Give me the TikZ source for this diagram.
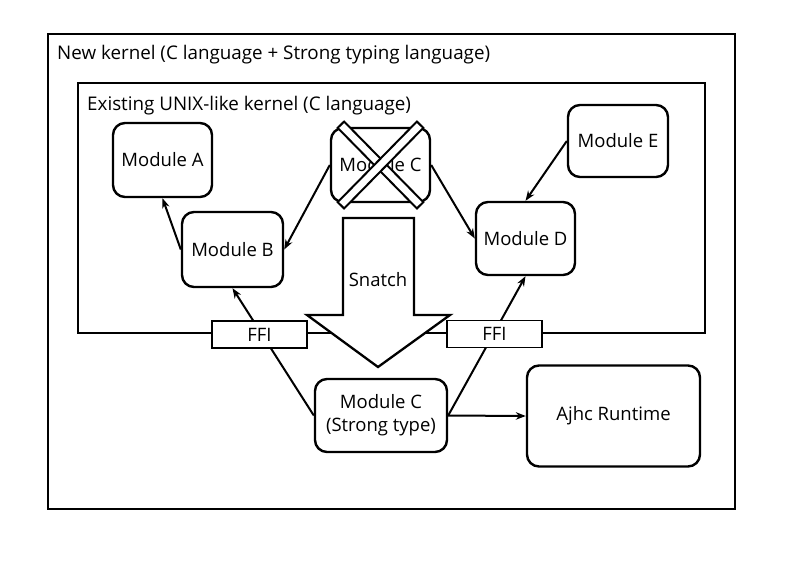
\documentclass[tikz,border=0pt]{standalone}
\usepackage{fontspec}
\setmainfont{Open Sans}
\usetikzlibrary{arrows.meta}
\tikzset{
  frame/.style={draw, line width=2.3pt},
  mod/.style={draw, line width=2.4pt, rounded corners=12pt, fill=white, align=center, font=\fontsize{18.5}{23}\selectfont},
  ffi/.style={draw, line width=1.8pt, fill=white, minimum width=95pt, minimum height=27pt, inner sep=0pt, font=\fontsize{18.5}{22}\selectfont},
  band/.style={draw, line width=2pt, fill=white, minimum width=113pt, minimum height=9pt, inner sep=0pt},
  conn/.style={line width=2pt},
  arr/.style={conn, -{Stealth[length=10pt,width=7.5pt]}},
  title/.style={anchor=base west, font=\fontsize{18.8}{22}\selectfont, inner sep=0pt}
}
\begin{document}
\begin{tikzpicture}[x=1pt,y=-1pt]
\useasboundingbox (0,0) rectangle (800,566);
% frames
\draw[frame] (48,34) rectangle (735,509);
\draw[frame] (78,83) rectangle (705,333);
\node[title] (tnew) at (57,59) {New kernel (C language + Strong typing language)};
\node[title] (texist) at (87,110) {Existing UNIX-like kernel (C language)};
% modules
\node[mod, minimum width=99pt, minimum height=74pt] (A) at (162.5,160) {Module A};
\node[mod, minimum width=101pt, minimum height=75pt] (B) at (232.5,249.5) {Module B};
\node[mod, minimum width=99pt, minimum height=74pt] (C) at (380.5,165) {Module C};
\node[mod, minimum width=100pt, minimum height=72pt] (E) at (618,141) {Module E};
\node[mod, minimum width=99pt, minimum height=73pt] (D) at (525.5,238.5) {Module D};
\node[mod, minimum width=132pt, minimum height=73pt] (CS) at (381,415.5) {Module C\\(Strong type)};
\node[mod, minimum width=173pt, minimum height=101pt] (AJ) at (613.5,416) {Ajhc Runtime};
% cross over Module C
\node[band, rotate=-45.5] (x1) at (380.5,165) {};
\node[band, rotate=45.5] (x2) at (380.5,165) {};
% connectors
\draw[arr] (B.west) -- (A.south);
\draw[arr] (C.west) -- (B.east);
\draw[arr] (C.east) -- (D.west);
\draw[arr] (E.west) -- (D.north);
\draw[arr] (CS.west) -- (B.south);
\draw[arr] (CS.east) -- (D.south);
\draw[arr] (CS.east) -- (AJ.west);
% FFI
\node[ffi] (F1) at (259.5,334.5) {FFI};
\node[ffi] (F2) at (494.5,334) {FFI};
% snatch arrow
\draw[line width=2.3pt, fill=white, line join=miter] (343,218) -- (414,218) -- (414,315) -- (450,315) -- (378,367) -- (307,315) -- (343,315) -- cycle;
\node[font=\fontsize{18.5}{22}\selectfont] (SN) at (378,280) {Snatch};
\end{tikzpicture}
\end{document}
